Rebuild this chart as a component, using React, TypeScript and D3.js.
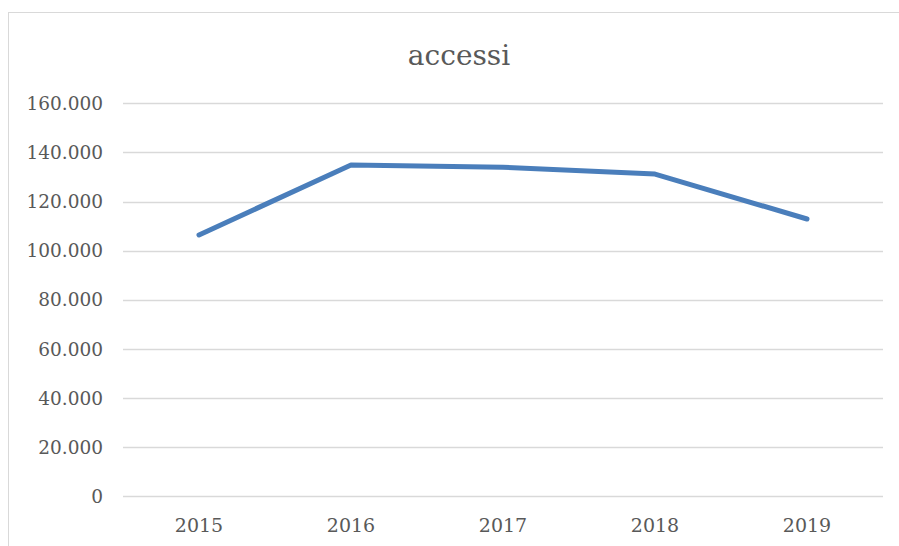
import React from "react";
import * as d3 from "d3";

const title = "accessi";
const years = ["2015", "2016", "2017", "2018", "2019"];
const accessi = [106400, 134900, 134000, 131200, 112900];
const yTicks = [0, 20000, 40000, 60000, 80000, 100000, 120000, 140000, 160000];

const W = 899;
const H = 546;
const plot = { left: 123, right: 883, top: 103.3, bottom: 496.3 };
const FONT = "'DejaVu Serif', serif";

const fmt = (v: number) => (v === 0 ? "0" : d3.format(",")(v).replace(/,/g, "."));

export default function App() {
  const x = d3.scaleBand<string>().domain(years).range([plot.left, plot.right]).padding(0);
  const y = d3.scaleLinear().domain([0, 160000]).range([plot.bottom, plot.top]);
  const line = d3
    .line<number>()
    .x((_, i) => (x(years[i]) as number) + x.bandwidth() / 2)
    .y((d) => y(d));

  return (
    <svg
      width={W}
      height={H}
      style={{ position: "absolute", left: 0, top: 0, background: "#fff" }}
    >
      <rect x={0} y={0} width={W} height={H} fill="#fff" />
      <rect x={8.5} y={12.5} width={1000} height={1000} fill="#fff" stroke="#d9d9d9" strokeWidth={1} />
      <text
        x={459}
        y={65}
        textAnchor="middle"
        fontFamily={FONT}
        fontSize={28}
        fill="#595959"
      >
        {title}
      </text>
      {yTicks.map((t) => (
        <g key={t}>
          <line
            x1={plot.left}
            x2={plot.right}
            y1={Math.round(y(t)) + 0.5}
            y2={Math.round(y(t)) + 0.5}
            stroke="#d9d9d9"
            strokeWidth={1.5}
          />
          <text
            x={103}
            y={y(t)}
            dy="0.36em"
            textAnchor="end"
            fontFamily={FONT}
            fontSize={18.5}
            fill="#595959"
          >
            {fmt(t)}
          </text>
        </g>
      ))}
      {years.map((yr) => (
        <text
          key={yr}
          x={(x(yr) as number) + x.bandwidth() / 2}
          y={532}
          textAnchor="middle"
          fontFamily={FONT}
          fontSize={19}
          fill="#595959"
        >
          {yr}
        </text>
      ))}
      <path
        d={line(accessi) || ""}
        fill="none"
        stroke="#4a7ebb"
        strokeWidth={5}
        strokeLinecap="round"
        strokeLinejoin="round"
      />
    </svg>
  );
}
